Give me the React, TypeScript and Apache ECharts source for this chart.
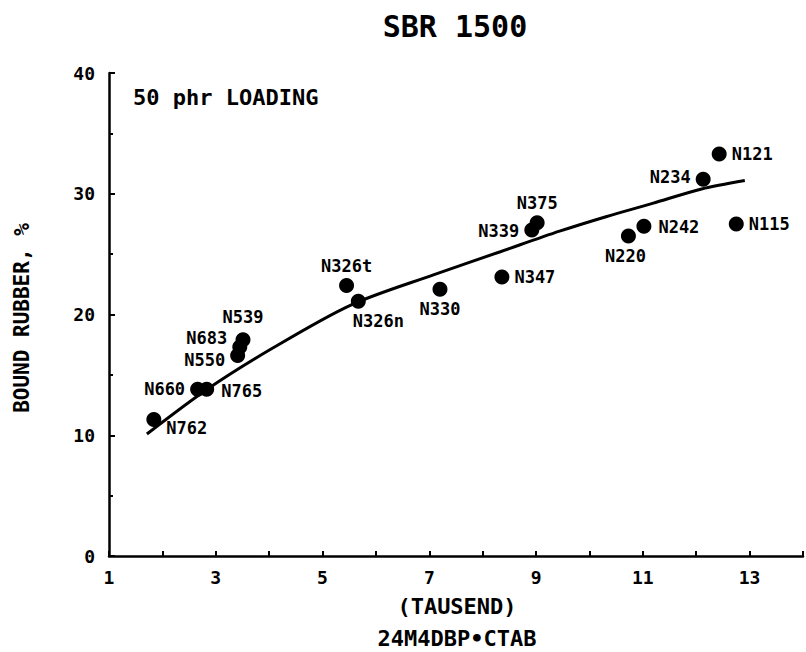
import React, { useEffect, useRef } from "react";
import * as echarts from "echarts";

const pointNames = ["N762", "N660", "N765", "N550", "N683", "N539", "N326t", "N326n", "N330", "N347", "N339", "N375", "N220", "N242", "N234", "N121", "N115"];
const pointX = [1.84, 2.66, 2.83, 3.41, 3.45, 3.51, 5.45, 5.67, 7.2, 8.36, 8.92, 9.02, 10.73, 11.02, 12.13, 12.43, 12.75];
const pointY = [11.3, 13.8, 13.8, 16.6, 17.3, 17.9, 22.4, 21.1, 22.1, 23.1, 27.0, 27.6, 26.5, 27.3, 31.2, 33.3, 27.5];

const curveX = [1.71, 2.82, 4.06, 5.54, 7.09, 8.33, 9.44, 10.31, 11.18, 12.1, 12.91];
const curveY = [10.1, 13.75, 17.2, 20.8, 23.3, 25.2, 26.9, 28.1, 29.2, 30.4, 31.1];

const yTicks = [0, 10, 20, 30, 40];
const xLabelValues = [1, 3, 5, 7, 9, 11, 13];

const titleText = "SBR 1500";
const noteText = "50 phr LOADING";
const yName = "BOUND RUBBER, %";
const xName1 = "(TAUSEND)";
const xName2 = "24M4DBP\u2022CTAB";

const FONT = "'DejaVu Sans Mono', monospace";

export default function App() {
  const ref = useRef<HTMLDivElement>(null);
  useEffect(() => {
    if (!ref.current) return;
    const chart = echarts.init(ref.current, null, { renderer: "svg" });
    const labelPlace: Record<string, any> = {
      N762: { position: "right", offset: [0, 8] },
      N660: { position: "left" },
      N765: { position: "right", offset: [2, 2] },
      N550: { position: "left", offset: [0, 4] },
      N683: { position: "left", offset: [0, -9] },
      N539: { position: "top", offset: [0, -3] },
      N326t: { position: "top" },
      N326n: { position: "bottom", offset: [20, 0] },
      N330: { position: "bottom" },
      N347: { position: "right" },
      N339: { position: "left", offset: [0, 1] },
      N375: { position: "top" },
      N220: { position: "bottom", offset: [-3, 0] },
      N242: { position: "right", offset: [2, 1] },
      N234: { position: "left", offset: [0, -2] },
      N121: { position: "right" },
      N115: { position: "right" },
    };
    const scatterData = pointNames.map((n, i) => ({
      name: n,
      value: [pointX[i], pointY[i]],
      label: labelPlace[n] || {},
    }));
    const curveData = curveX.map((x, i) => [x, curveY[i]]);
    chart.setOption({
      animation: false,
      backgroundColor: "#ffffff",
      grid: { left: 109, top: 73, width: 700, height: 483, containLabel: false },
      xAxis: {
        type: "value",
        min: 1,
        max: 14,
        interval: 1,
        axisLine: { show: true, lineStyle: { color: "#000", width: 2.5 } },
        axisTick: { show: true, inside: true, length: 5, lineStyle: { color: "#000", width: 2 } },
        splitLine: { show: false },
        axisLabel: {
          color: "#000",
          fontFamily: FONT,
          fontWeight: "bold",
          fontSize: 18,
          margin: 12,
          formatter: (v: number) => (xLabelValues.indexOf(v) >= 0 ? String(v) : ""),
        },
      },
      yAxis: {
        type: "value",
        min: 0,
        max: 40,
        interval: 10,
        axisLine: { show: true, lineStyle: { color: "#000", width: 2.5 } },
        axisTick: { show: true, inside: true, length: 6, lineStyle: { color: "#000", width: 2 } },
        minorTick: { show: true, splitNumber: 2, length: 4, lineStyle: { color: "#000", width: 2 } },
        splitLine: { show: false },
        axisLabel: {
          color: "#000",
          fontFamily: FONT,
          fontWeight: "bold",
          fontSize: 18,
          margin: 14,
          formatter: (v: number) => (yTicks.indexOf(v) >= 0 ? String(v) : ""),
        },
      },
      series: [
        {
          type: "line",
          data: curveData,
          smooth: 0.3,
          showSymbol: false,
          lineStyle: { color: "#000", width: 3 },
          z: 2,
        },
        {
          type: "scatter",
          data: scatterData,
          symbolSize: 15,
          itemStyle: { color: "#000", opacity: 1 },
          label: {
            show: true,
            formatter: "{b}",
            color: "#000",
            fontFamily: FONT,
            fontWeight: "bold",
            fontSize: 17,
            lineHeight: 14,
            distance: 5,
          },
          z: 3,
        },
      ],
      graphic: [
        {
          type: "text",
          style: { text: titleText, x: 455, y: 26, align: "center", verticalAlign: "middle", font: `bold 30px ${FONT}`, fill: "#000" },
        },
        {
          type: "text",
          style: { text: noteText, x: 133, y: 97, verticalAlign: "middle", font: `bold 22px ${FONT}`, fill: "#000" },
        },
        {
          type: "text",
          x: 22,
          y: 318,
          rotation: Math.PI / 2,
          style: { text: yName, x: 0, y: 0, align: "center", verticalAlign: "middle", font: `bold 21px ${FONT}`, fill: "#000" },
        },
        {
          type: "text",
          style: { text: xName1, x: 457, y: 606, align: "center", verticalAlign: "middle", font: `bold 22px ${FONT}`, fill: "#000" },
        },
        {
          type: "text",
          style: { text: xName2, x: 457, y: 638, align: "center", verticalAlign: "middle", font: `bold 22px ${FONT}`, fill: "#000" },
        },
      ],
    });
    return () => chart.dispose();
  }, []);
  return <div ref={ref} style={{ position: "absolute", left: 0, top: 0, width: 806, height: 652 }} />;
}
